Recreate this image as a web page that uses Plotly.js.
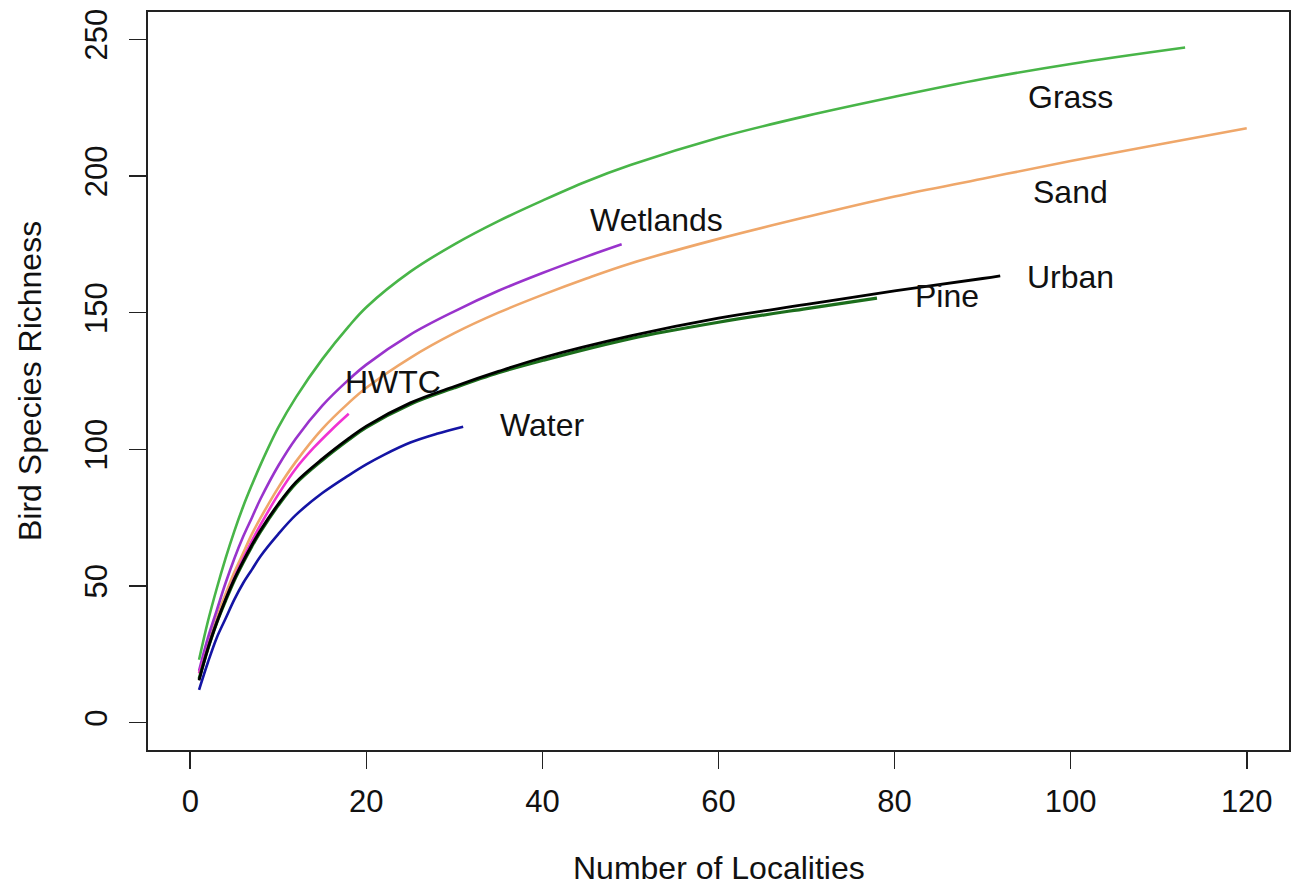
<!DOCTYPE html>
<html>
<head>
<meta charset="utf-8">
<script src="https://cdn.plot.ly/plotly-3.0.1.min.js"></script>
<style>html,body{margin:0;padding:0;background:#fff;}#chart{width:1298px;height:888px;}</style>
</head>
<body>
<div id="chart"></div>
<script>
// Rarefaction curves
const grassX = [1,2,3,4,5,6,7,8,10,12,15,18,20,25,30,35,40,45,50,60,70,80,90,100,113];
const grassY = [23,37,49,60,70,79,87,94.5,108,119,133,145,152,165,175,183.5,191,198,204,214,222,229,235.5,241,247];

const sandX = [1,2,3,4,5,6,7,8,10,12,15,18,20,25,30,35,40,45,50,60,70,80,90,100,110,120];
const sandY = [18,29,38.5,47,55,62,69,75,86,95.5,107.5,117,122.5,133.5,142.5,150,156.5,162.5,168,177,185,192.5,199,205.5,211.5,217.5];

const wetX = [1,2,3,4,5,6,7,8,10,12,15,18,20,25,30,35,40,45,49];
const wetY = [19,31,41,51,60,68,75,82,94,104,116,125.5,131,142,150.5,158,164.5,170.5,175];

const hwtcX = [1,2,3,4,5,6,7,8,10,12,14,16,18];
const hwtcY = [18,28,37,45,53,60,66.5,72.5,83.5,93,100.5,107,113];

const pineX = [1,2,3,4,5,6,7,8,10,12,15,18,20,25,30,35,40,50,60,70,78];
const pineY = [16,27,36.5,44.5,52,58.5,64.5,70,79.5,87.5,96,103.5,108,116.5,122.5,128,132.5,140.5,146.5,151.5,155.3];

const urbanX = [1,2,3,4,5,6,7,8,10,12,15,18,20,25,30,35,40,50,60,70,80,90,92];
const urbanY = [15.5,27,36.5,45,52.5,59,65,70.5,80,88,96.5,104,108.5,117,123,128.5,133.5,141.5,148,153,158,162.5,163.5];

const waterX = [1,2,3,4,5,6,7,8,10,12,15,18,20,22,25,28,31];
const waterY = [12,22,31,38,45,51,56,61,69,76,84,90.5,94.5,98,102.5,105.7,108.3];

const labelText = ["Grass","Sand","Urban","Pine","Wetlands","HWTC","Water"];
const labelX = [100,100,100,86,53,23,40];
const labelY = [229,194,163,156,184,124.5,109];

const xTicks = [0,20,40,60,80,100,120];
const yTicks = [0,50,100,150,200,250];

const series = [
  {x: grassX, y: grassY, color: "#48B548", w: 2.6, name: "Grass"},
  {x: sandX, y: sandY, color: "#EFA76A", w: 2.6, name: "Sand"},
  {x: wetX, y: wetY, color: "#9933CC", w: 2.6, name: "Wetlands"},
  {x: hwtcX, y: hwtcY, color: "#F033D2", w: 2.6, name: "HWTC"},
  {x: pineX, y: pineY, color: "#1C6E1C", w: 3.2, name: "Pine"},
  {x: urbanX, y: urbanY, color: "#000000", w: 2.8, name: "Urban"},
  {x: waterX, y: waterY, color: "#1414A4", w: 2.6, name: "Water"}
];

const traces = series.map(s => ({
  type: "scatter", mode: "lines", x: s.x, y: s.y, name: s.name,
  line: {color: s.color, width: s.w, shape: "spline", smoothing: 1},
  hoverinfo: "skip"
}));

const font = "Liberation Sans, Arial, sans-serif";

const annotations = labelText.map((t, i) => ({
  x: labelX[i], y: labelY[i], xref: "x", yref: "y", text: t, showarrow: false,
  xanchor: "center", yanchor: "middle", font: {family: font, size: 32, color: "#111"}
}));
annotations.push({
  x: 0.5, y: 0, xref: "paper", yref: "paper", text: "Number of Localities", showarrow: false,
  xanchor: "center", yanchor: "middle", yshift: -118, font: {family: font, size: 32, color: "#111"}
});
annotations.push({
  x: 0, y: 0.5, xref: "paper", yref: "paper", text: "Bird Species Richness", showarrow: false,
  xanchor: "center", yanchor: "middle", xshift: -118, textangle: -90, font: {family: font, size: 32, color: "#111"}
});

const layout = {
  width: 1298, height: 888,
  margin: {l: 148, r: 9, t: 12, b: 138},
  paper_bgcolor: "#fff", plot_bgcolor: "#fff",
  showlegend: false,
  font: {family: font, color: "#111"},
  xaxis: {
    range: [-4.8, 124.8], tickvals: xTicks, ticktext: xTicks.map(String),
    ticks: "outside", ticklen: 17, tickwidth: 1.6, tickcolor: "#222",
    showline: true, linecolor: "#222", linewidth: 2, mirror: true,
    showgrid: false, zeroline: false,
    tickfont: {family: font, size: 31, color: "#111"}, ticklabelstandoff: 6
  },
  yaxis: {
    range: [-10, 260], tickvals: yTicks, ticktext: yTicks.map(String),
    ticks: "outside", ticklen: 17, tickwidth: 1.6, tickcolor: "#222",
    showline: true, linecolor: "#222", linewidth: 2, mirror: true,
    showgrid: false, zeroline: false, tickangle: -90,
    tickfont: {family: font, size: 31, color: "#111"}, ticklabelstandoff: 10
  },
  annotations: annotations
};

Plotly.newPlot("chart", traces, layout, {displayModeBar: false, staticPlot: true});
</script>
</body>
</html>
